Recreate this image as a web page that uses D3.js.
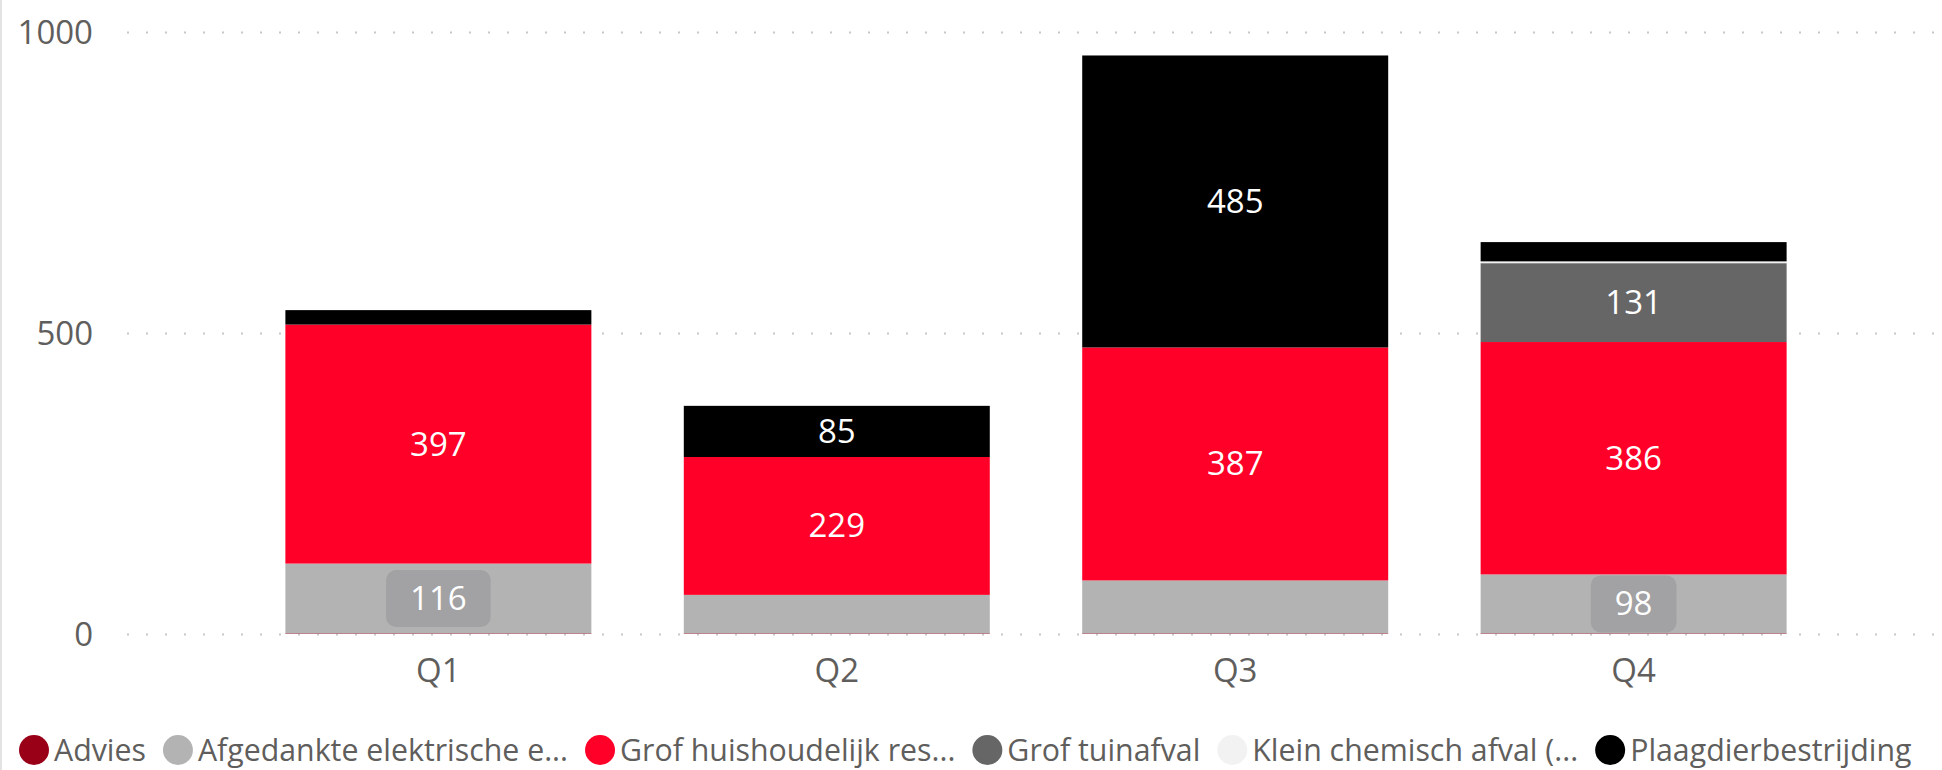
<!DOCTYPE html>
<html lang="nl">
<head>
    <meta charset="UTF-8">
    <title>Meldingen per kwartaal</title>
    <script src="https://d3js.org/d3.v7.min.js"></script>
    <style>
        body {
            margin: 0;
            background: #ffffff;
            font-family: "Open Sans", "Noto Sans", sans-serif;
        }
        svg { display: block; }
        .tick text { fill: #605E5C; font-size: 33px; font-family: "Open Sans", "Noto Sans", sans-serif; }
        .grid line { stroke: #C8C8C8; stroke-width: 2px; stroke-dasharray: 2, 17; }
        .label { fill: #ffffff; font-size: 33px; text-anchor: middle; }
        .legend text { fill: #605E5C; font-size: 30.3px; }
    </style>
</head>
<body>
<svg id="chart" width="1942" height="770"></svg>
<script>
    // Data
    const quarters = ["Q1", "Q2", "Q3", "Q4"];
    const advies = [1, 1, 1, 1];
    const afgedankte = [116, 64, 88, 98];
    const grofHuishoudelijk = [397, 229, 387, 386];
    const grofTuinafval = [0, 0, 0, 131];
    const kleinChemisch = [0, 0, 0, 3];
    const plaagdier = [24, 85, 485, 32];
    const yTicks = [0, 500, 1000];

    const seriesKeys = ["Advies", "Afgedankte elektrische e...", "Grof huishoudelijk res...",
        "Grof tuinafval", "Klein chemisch afval (...", "Plaagdierbestrijding"];
    const seriesValues = [advies, afgedankte, grofHuishoudelijk, grofTuinafval, kleinChemisch, plaagdier];
    const colors = ["#990017", "#B3B3B3", "#FF0029", "#666666", "#F2F2F2", "#000000"];

    // build the table d3.stack wants
    const rows = quarters.map((q, i) => {
        const row = { quarter: q };
        seriesKeys.forEach((k, j) => row[k] = seriesValues[j][i]);
        return row;
    });

    const svg = d3.select("#chart");
    const W = 1942;

    const x = d3.scaleBand()
        .domain(quarters)
        .range([130, W])
        .paddingInner(0.232)
        .paddingOuter(0.39);

    const y = d3.scaleLinear()
        .domain([0, 1000])
        .range([634, 32]);

    const color = d3.scaleOrdinal().domain(seriesKeys).range(colors);

    // left border
    svg.append("line")
        .attr("x1", 1).attr("x2", 1)
        .attr("y1", 0).attr("y2", 770)
        .attr("stroke", "#E3E3E3")
        .attr("stroke-width", 2);

    // gridlines + y labels
    const yAxis = svg.append("g")
        .attr("class", "grid")
        .attr("transform", "translate(127,0)")
        .call(d3.axisLeft(y).tickValues(yTicks).tickSize(-(1935 - 127)).tickPadding(34).tickFormat(d3.format("d")));
    yAxis.select(".domain").remove();
    yAxis.selectAll("text").attr("dy", "0.35em");

    // stacked bars
    const stacked = d3.stack().keys(seriesKeys)(rows);

    svg.append("g")
        .selectAll("g")
        .data(stacked)
        .join("g")
        .attr("fill", d => color(d.key))
        .selectAll("rect")
        .data(d => d)
        .join("rect")
        .attr("x", d => x(d.data.quarter))
        .attr("y", d => y(d[1]))
        .attr("height", d => y(d[0]) - y(d[1]))
        .attr("width", x.bandwidth());

    // data labels
    const labels = svg.append("g");
    stacked.forEach(s => {
        const boxed = s.key === seriesKeys[1];
        s.forEach(d => {
            const h = y(d[0]) - y(d[1]);
            const v = d[1] - d[0];
            if (h < (boxed ? 56 : 45)) return;
            const cx = x(d.data.quarter) + x.bandwidth() / 2;
            const cy = (y(d[0]) + y(d[1])) / 2;
            const g = labels.append("g");
            const t = g.append("text")
                .attr("class", "label")
                .attr("x", cx)
                .attr("y", cy)
                .attr("dy", "0.35em")
                .text(v);
            if (boxed) {
                const tw = t.node().getComputedTextLength() + 48;
                g.insert("rect", "text")
                    .attr("x", cx - tw / 2)
                    .attr("y", cy - 28.5)
                    .attr("width", tw)
                    .attr("height", 57)
                    .attr("rx", 10)
                    .attr("fill", "#A2A2A4");
            }
        });
    });

    // x axis
    const xAxis = svg.append("g")
        .attr("transform", "translate(0,634)")
        .call(d3.axisBottom(x).tickSize(0));
    xAxis.select(".domain").remove();
    xAxis.selectAll("text").attr("y", 36).attr("dy", "0.35em");

    // legend, laid out left to right
    const legend = svg.append("g").attr("class", "legend");
    let lx = 19;
    seriesKeys.forEach((k, i) => {
        legend.append("circle")
            .attr("cx", lx + 15)
            .attr("cy", 750)
            .attr("r", 15)
            .attr("fill", colors[i]);
        const t = legend.append("text")
            .attr("x", lx + 35)
            .attr("y", 750)
            .attr("dy", "0.35em")
            .text(k);
        lx += 35 + t.node().getComputedTextLength() + 17;
    });
</script>
</body>
</html>
